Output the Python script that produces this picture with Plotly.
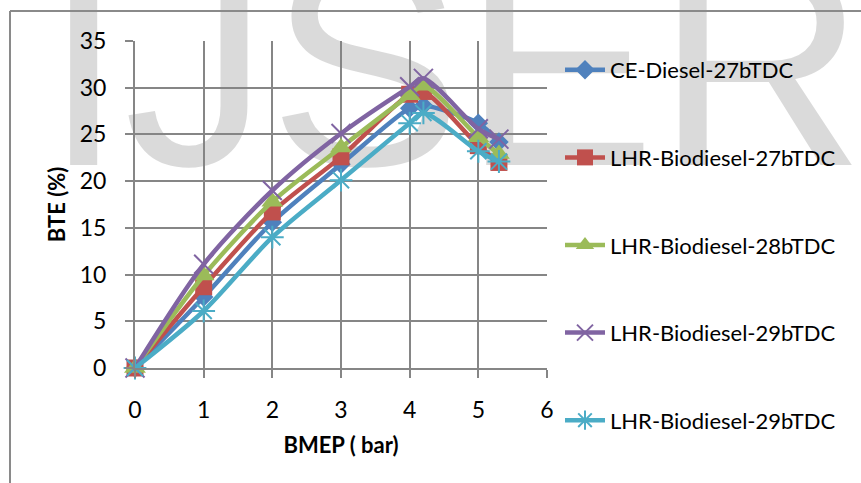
import plotly.graph_objects as go

# ---- data ----
bmep = [0, 1, 2, 3, 4, 4.2, 5, 5.3]
ce_diesel_27 = [0, 7.6, 15.6, 21.8, 27.8, 28.1, 26.2, 24.2]
lhr_bio_27 = [0, 8.7, 16.7, 22.6, 29.3, 29.6, 23.8, 22.0]
lhr_bio_28 = [0, 9.9, 17.8, 23.6, 29.2, 30.2, 24.7, 22.9]
lhr_bio_29 = [0, 11.1, 19.0, 25.1, 30.1, 31.0, 25.6, 24.5]
lhr_bio_29b = [0, 6.1, 14.0, 20.1, 26.2, 27.3, 23.2, 22.1]

series_names = ["CE-Diesel-27bTDC", "LHR-Biodiesel-27bTDC", "LHR-Biodiesel-28bTDC",
                "LHR-Biodiesel-29bTDC", "LHR-Biodiesel-29bTDC"]
series_values = [ce_diesel_27, lhr_bio_27, lhr_bio_28, lhr_bio_29, lhr_bio_29b]
colors = ["#4F81BD", "#C0504D", "#9BBB59", "#8064A2", "#4BACC6"]
symbols = ["diamond", "square", "triangle-up", "x-thin-open", "asterisk-open"]
msizes = [15, 17, 19, 19, 19]

x_ticks = [0, 1, 2, 3, 4, 5, 6]
y_ticks = [0, 5, 10, 15, 20, 25, 30, 35]
watermark = "IJSER"

FONT = "Lato, 'Open Sans', sans-serif"
GRID = "#868686"

fig = go.Figure()

# watermark (behind data)
fig.add_trace(go.Scatter(
    x=[4.65], y=[29.5], mode="text", text=[watermark],
    textposition="middle center",
    textfont=dict(family="Liberation Sans, Arial, sans-serif", size=290,
                  color="rgba(134,134,134,0.3)"),
    showlegend=False, hoverinfo="skip", cliponaxis=False))

for i, (name, vals, c, s, ms) in enumerate(zip(series_names, series_values, colors, symbols, msizes)):
    marker = dict(symbol=s, size=ms, color=c)
    if s.endswith("open"):
        marker["line"] = dict(color=c, width=2)
    fig.add_trace(go.Scatter(
        x=bmep, y=vals, name=name, mode="lines+markers",
        line=dict(color=c, width=4.5, shape="spline", smoothing=0.8),
        marker=marker, legendgroup="g%d" % i,
        cliponaxis=False))

L, R, T, B = 135, 861 - 547, 41, 483 - 368
pw, ph = 861 - L - R, 483 - T - B

def px_x(p):
    return (p - L) / pw

def px_y(p):
    return (483 - B - p) / ph

fig.update_layout(
    width=861, height=483,
    margin=dict(l=L, r=R, t=T, b=B),
    paper_bgcolor="white", plot_bgcolor="rgba(0,0,0,0)",
    font=dict(family=FONT, size=23, color="black"),
    showlegend=True,
    legend=dict(x=px_x(560), y=px_y(49), xanchor="left", yanchor="top",
                traceorder="grouped", tracegroupgap=56,
                font=dict(family=FONT, size=22, color="black"),
                bgcolor="rgba(0,0,0,0)", itemwidth=40, maxheight=470),
    xaxis=dict(range=[0, 6], tickvals=x_ticks, ticktext=[str(v) for v in x_ticks],
               showgrid=True, gridcolor=GRID, gridwidth=2,
               showline=True, linecolor=GRID, linewidth=2,
               ticks="outside", ticklen=8, tickwidth=2, tickcolor=GRID,
               ticklabelstandoff=12, zeroline=False,
               title=dict(text="<b>BMEP ( bar)</b>", font=dict(size=22), standoff=16)),
    yaxis=dict(range=[0, 35], tickvals=y_ticks, ticktext=[str(v) for v in y_ticks],
               showgrid=True, gridcolor=GRID, gridwidth=2,
               showline=True, linecolor=GRID, linewidth=2,
               ticks="outside", ticklen=8, tickwidth=2, tickcolor=GRID,
               ticklabelstandoff=14, zeroline=False,
               title=dict(text="<b>BTE (%)</b>", font=dict(size=22), standoff=8)),
    shapes=[
        dict(type="line", xref="paper", yref="paper", x0=px_x(10), x1=px_x(861),
             y0=px_y(11), y1=px_y(11), line=dict(color="#8a8a8a", width=2)),
        dict(type="line", xref="paper", yref="paper", x0=px_x(10), x1=px_x(10),
             y0=px_y(11), y1=px_y(483), line=dict(color="#8a8a8a", width=2)),
    ],
)

fig.write_html("out.html")
